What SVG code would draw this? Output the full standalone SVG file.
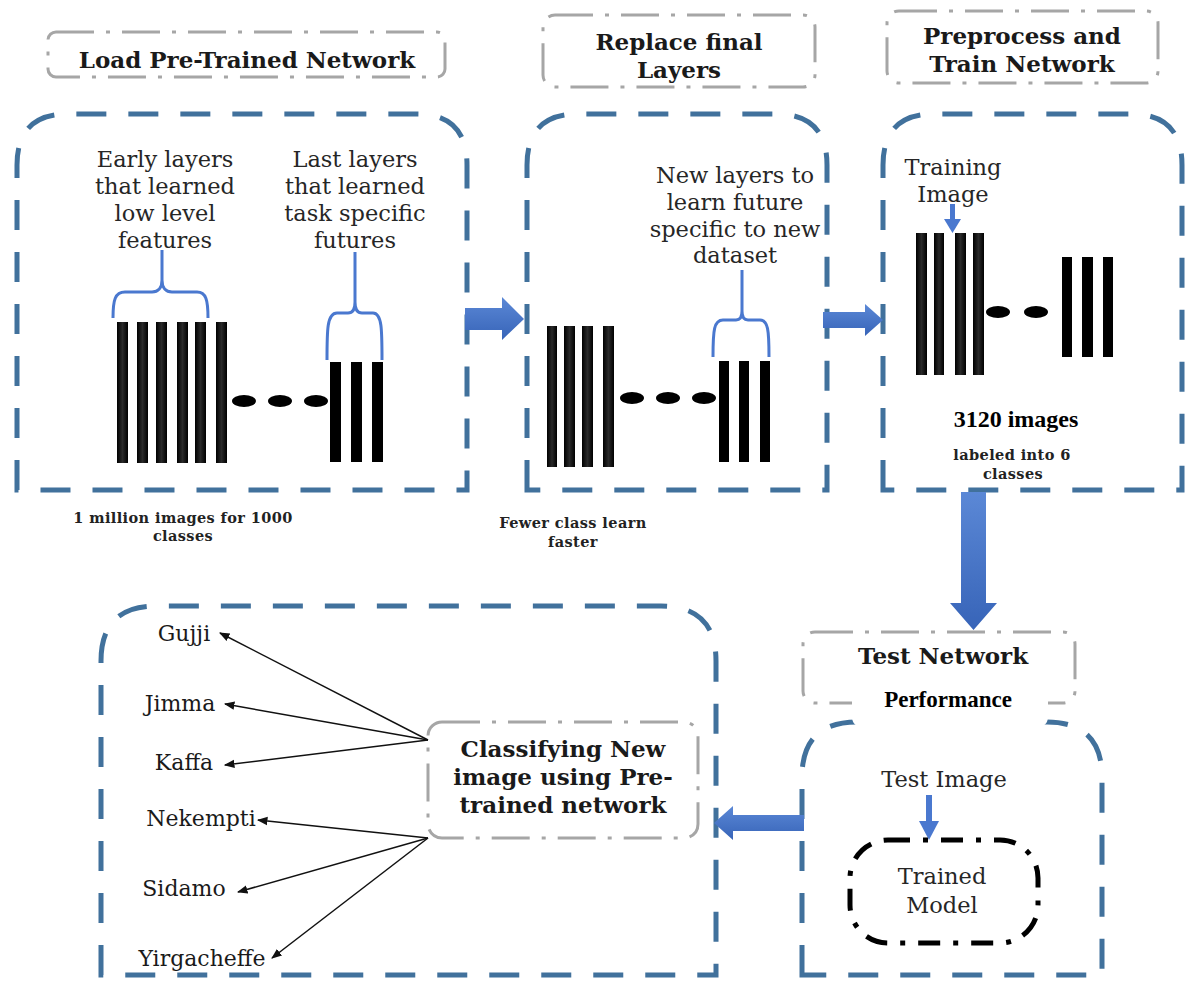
<svg xmlns="http://www.w3.org/2000/svg" width="1185" height="985" viewBox="0 0 1185 985">
  <style>
    .panel { fill: none; stroke: #41719c; stroke-width: 5; stroke-dasharray: 30 22; }
    .label { fill: #fff; stroke: #a6a6a6; stroke-width: 3; stroke-dasharray: 38 12 4 12; }
    .title { font-family: "DejaVu Serif", "Liberation Serif", serif; font-weight: bold; font-size: 23px; fill: #1a1a1a; text-anchor: middle; }
    .body { font-family: "DejaVu Serif", "Liberation Serif", serif; font-size: 22.5px; fill: #262626; text-anchor: middle; }
    .note { font-family: "DejaVu Serif", "Liberation Serif", serif; font-weight: bold; font-size: 14.5px; letter-spacing: 0.4px; fill: #222; text-anchor: middle; }
    .times { font-family: "Liberation Serif", "Times New Roman", serif; font-weight: bold; fill: #000; text-anchor: middle; }
    .cls { font-family: "DejaVu Serif", "Liberation Serif", serif; font-size: 22px; fill: #1a1a1a; text-anchor: middle; }
    .bar { fill: url(#barGrad); }
    .dot { fill: #000; }
    .brace { fill: none; stroke: #4a78cf; stroke-width: 3; }
    .big-arrow { fill: url(#arrowGrad); }
    .small-arrow { fill: #4a78cf; }
    .link { stroke: #111; stroke-width: 1.5; fill: none; marker-end: url(#tip); }
  </style>
  <defs>
    <linearGradient id="barGrad" x1="0" y1="0" x2="1" y2="0">
      <stop offset="0" stop-color="#000"/>
      <stop offset="0.5" stop-color="#2a2a2a"/>
      <stop offset="1" stop-color="#000"/>
    </linearGradient>
    <linearGradient id="arrowGrad" x1="0" y1="0" x2="0" y2="1">
      <stop offset="0" stop-color="#5b88d6"/>
      <stop offset="1" stop-color="#3764b8"/>
    </linearGradient>
    <marker id="tip" viewBox="0 0 10 10" refX="9" refY="5" markerWidth="7" markerHeight="7" orient="auto">
      <path d="M0,1 L10,5 L0,9 Z" fill="#111"/>
    </marker>
  </defs>

  <rect width="1185" height="985" fill="#fff"/>

  <!-- Stage 1: pre-trained network -->
  <g id="stage-load">
    <rect class="label" x="48" y="32" width="397" height="45" rx="8"/>
    <text class="title" x="247" y="68">Load Pre-Trained Network</text>
    <path class="panel" d="M17,490 V165 Q17,114 68,114 H417 Q467,114 467,165 V490 Z"/>
    <text class="body" x="165" y="167">Early layers</text>
    <text class="body" x="165" y="194">that learned</text>
    <text class="body" x="165" y="221">low level</text>
    <text class="body" x="165" y="248">features</text>
    <text class="body" x="355" y="167">Last layers</text>
    <text class="body" x="355" y="194">that learned</text>
    <text class="body" x="355" y="221">task specific</text>
    <text class="body" x="355" y="248">futures</text>
    <path class="brace" d="M113,318 C113,300 115,292 125,292 H152 C158,292 162,288 162,280 V250 M162,280 C162,288 166,292 172,292 H197 C206,292 208,300 208,318"/>
    <path class="brace" d="M327,360 C327,330 327,313 337,313 H348 C353,313 355,309 355,302 V252 M355,302 C355,309 357,313 362,313 H373 C382,313 382,330 382,360"/>
    <rect class="bar" x="117" y="322" width="11" height="141"/>
    <rect class="bar" x="137" y="322" width="11" height="141"/>
    <rect class="bar" x="156" y="322" width="11" height="141"/>
    <rect class="bar" x="177" y="322" width="11" height="141"/>
    <rect class="bar" x="195" y="322" width="11" height="141"/>
    <rect class="bar" x="216" y="322" width="11" height="141"/>
    <ellipse class="dot" cx="244" cy="401" rx="12" ry="6"/>
    <ellipse class="dot" cx="280" cy="401" rx="12" ry="6"/>
    <ellipse class="dot" cx="316" cy="401" rx="12" ry="6"/>
    <rect fill="#000" x="330" y="362" width="11" height="100"/>
    <rect fill="#000" x="351" y="362" width="11" height="100"/>
    <rect fill="#000" x="372" y="362" width="11" height="100"/>
    <text class="note" x="183" y="523">1 million images for 1000</text>
    <text class="note" x="183" y="541">classes</text>
  </g>

  <!-- Stage 2: replace the final layers -->
  <g id="stage-replace">
    <rect class="label" x="543" y="15" width="272" height="72" rx="12"/>
    <text class="title" x="679" y="50">Replace final</text>
    <text class="title" x="679" y="78">Layers</text>
    <path class="panel" d="M527,490 V165 Q527,114 578,114 H776 Q827,114 827,165 V490 Z"/>
    <text class="body" x="735" y="183">New layers to</text>
    <text class="body" x="735" y="210">learn future</text>
    <text class="body" x="735" y="237">specific to new</text>
    <text class="body" x="735" y="263">dataset</text>
    <path class="brace" d="M713,357 C713,330 714,320 723,320 H736 C740,320 742,317 742,311 V270 M742,311 C742,317 744,320 748,320 H760 C768,320 769,330 769,357"/>
    <rect class="bar" x="547" y="326" width="10" height="141"/>
    <rect class="bar" x="564" y="326" width="11" height="141"/>
    <rect class="bar" x="582" y="326" width="11" height="141"/>
    <rect class="bar" x="603" y="326" width="11" height="141"/>
    <ellipse class="dot" cx="632" cy="398" rx="12" ry="6"/>
    <ellipse class="dot" cx="668" cy="398" rx="12" ry="6"/>
    <ellipse class="dot" cx="704" cy="398" rx="12" ry="6"/>
    <rect fill="#000" x="719" y="361" width="10" height="101"/>
    <rect fill="#000" x="739" y="361" width="10" height="101"/>
    <rect fill="#000" x="760" y="361" width="10" height="101"/>
    <text class="note" x="573" y="528">Fewer class learn</text>
    <text class="note" x="573" y="547">faster</text>
  </g>

  <!-- Stage 3: preprocess and train -->
  <g id="stage-train">
    <rect class="label" x="887" y="11" width="271" height="72" rx="12"/>
    <text class="title" x="1022" y="44">Preprocess and</text>
    <text class="title" x="1022" y="72">Train Network</text>
    <path class="panel" d="M883,490 V165 Q883,114 934,114 H1131 Q1182,114 1182,165 V490 Z"/>
    <text class="body" x="953" y="175">Training</text>
    <text class="body" x="953" y="202">Image</text>
    <rect class="small-arrow" x="950" y="204" width="5" height="17"/>
    <path class="small-arrow" d="M944,219 H961 L952.5,233 Z"/>
    <rect class="bar" x="916" y="233" width="11" height="142"/>
    <rect class="bar" x="934" y="233" width="10" height="142"/>
    <rect class="bar" x="955" y="233" width="11" height="142"/>
    <rect class="bar" x="973" y="233" width="11" height="142"/>
    <ellipse class="dot" cx="998" cy="312" rx="12" ry="6"/>
    <ellipse class="dot" cx="1036" cy="312" rx="12" ry="6"/>
    <rect fill="#000" x="1062" y="257" width="10" height="100"/>
    <rect fill="#000" x="1082" y="257" width="11" height="100"/>
    <rect fill="#000" x="1103" y="257" width="10" height="100"/>
    <text class="times" x="1016" y="427" font-size="24">3120 images</text>
    <text class="note" x="1012" y="460">labeled into 6</text>
    <text class="note" x="1013" y="479">classes</text>
  </g>

  <!-- Stage 4: test network performance -->
  <g id="stage-test">
    <rect class="label" x="803" y="632" width="272" height="71" rx="12"/>
    <text class="title" x="943" y="664">Test Network</text>
    <path class="panel" d="M802,975 V777 Q802,722 857,722 H1047 Q1102,722 1102,777 V975 Z"/>
    <path d="M852,680 H1048 V716 Q1048,727 1037,727 H863 Q852,727 852,716 Z" fill="#fff"/>
    <text class="times" x="948" y="707" font-size="23">Performance</text>
    <text class="body" x="944" y="787" font-size="23.5">Test Image</text>
    <rect class="small-arrow" x="926" y="795" width="6" height="28"/>
    <path class="small-arrow" d="M919,821 H939 L929,840 Z"/>
    <rect x="850" y="840" width="188" height="103" rx="38" fill="none" stroke="#000" stroke-width="5" stroke-dasharray="22 13 5 13"/>
    <text class="body" x="942" y="884" font-size="23.5">Trained</text>
    <text class="body" x="942" y="913" font-size="23.5">Model</text>
  </g>

  <!-- Stage 5: classify a new image -->
  <g id="stage-classify">
    <path class="panel" d="M101,975 V661 Q101,606 156,606 H661 Q716,606 716,661 V975 Z"/>
    <rect class="label" x="428" y="722" width="270" height="116" rx="14"/>
    <text class="title" x="563" y="757">Classifying New</text>
    <text class="title" x="563" y="785">image using Pre-</text>
    <text class="title" x="563" y="813">trained network</text>
    <text class="cls" x="184" y="641">Gujji</text>
    <text class="cls" x="180" y="711">Jimma</text>
    <text class="cls" x="184" y="770">Kaffa</text>
    <text class="cls" x="201" y="826">Nekempti</text>
    <text class="cls" x="184" y="896">Sidamo</text>
    <text class="cls" x="202" y="966">Yirgacheffe</text>
  </g>

  <!-- Connectors -->
  <g id="connectors">
    <path class="big-arrow" d="M465,308 H502 V297 L524,319 L502,340 V330 H465 Z"/>
    <path class="big-arrow" d="M823,312 H865 V304 L883,320 L865,336 V328 H823 Z"/>
    <path class="big-arrow" d="M961,492 H986 V603 H997 L973.5,630 L950,603 H961 Z"/>
    <path class="big-arrow" d="M804,815 H733 V806 L714,823 L733,840 V831 H804 Z"/>
    <line class="link" x1="428" y1="740" x2="220" y2="633"/>
    <line class="link" x1="428" y1="740" x2="225" y2="704"/>
    <line class="link" x1="428" y1="740" x2="225" y2="765"/>
    <line class="link" x1="428" y1="838" x2="258" y2="820"/>
    <line class="link" x1="428" y1="838" x2="238" y2="892"/>
    <line class="link" x1="428" y1="838" x2="272" y2="958"/>
  </g>
</svg>
